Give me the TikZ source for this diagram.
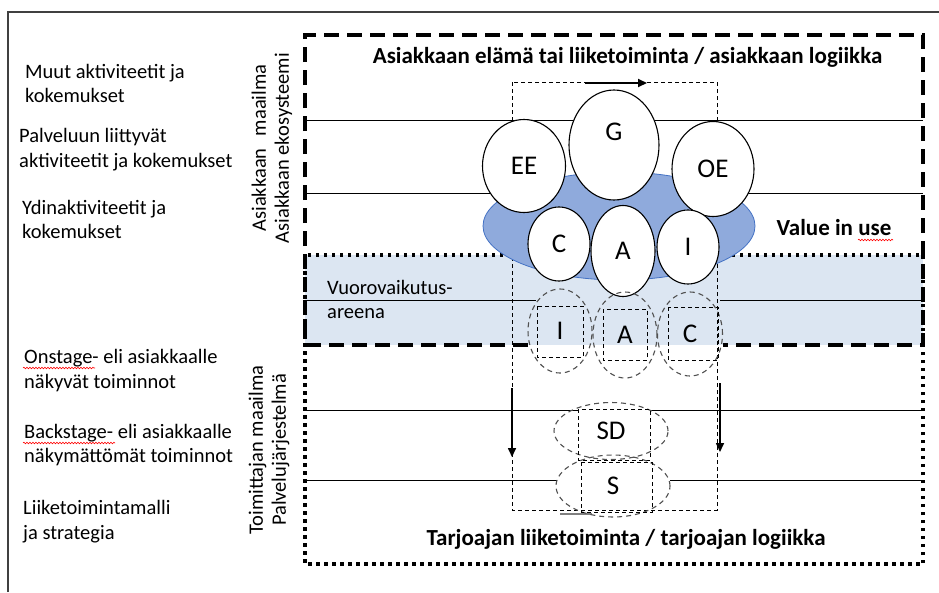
\documentclass[tikz,border=0pt]{standalone}
\usepackage{fontspec}
\setmainfont{Carlito}
\usetikzlibrary{arrows.meta,shapes.geometric,decorations.pathmorphing}

\definecolor{bandblue}{HTML}{DCE6F2}
\definecolor{blobfill}{HTML}{8FAADC}
\definecolor{blobline}{HTML}{4472C4}
\definecolor{framegray}{HTML}{404040}
\definecolor{ghostgray}{HTML}{505050}

\tikzset{
  txt/.style={font=\fontsize{20.5}{24.5}\selectfont, align=left, inner sep=0pt, anchor=west},
  head/.style={font=\bfseries\fontsize{23}{26}\selectfont, inner sep=0pt, anchor=base},
  side/.style={font=\fontsize{20.5}{23}\selectfont, align=center, rotate=90, inner sep=0pt},
  bubble/.style={ellipse, draw, fill=white, line width=1.1pt, inner sep=0pt,
                 font=\fontsize{27}{27}\selectfont},
  bubbletext/.style={inner sep=0pt, font=\fontsize{27}{27}\selectfont},
  ghost/.style={ellipse, draw=ghostgray, dash pattern=on 5pt off 4pt, line width=1.1pt,
                inner sep=0pt, font=\fontsize{27}{27}\selectfont},
  ghostbox/.style={draw=black, dash pattern=on 4pt off 3pt, line width=1pt},
  layer/.style={line width=1pt, black},
  bigdash/.style={line width=3.5pt, dash pattern=on 15pt off 8pt},
  bigdot/.style={line width=3.2pt, dash pattern=on 3.5pt off 4.5pt},
  loopline/.style={line width=1pt, dash pattern=on 4pt off 3pt},
  flow/.style={line width=1.6pt, -{Triangle[length=9pt,width=8pt]}},
  squiggle/.style={red, line width=0.6pt, decorate,
                   decoration={snake, amplitude=0.8pt, segment length=3pt}},
}

\begin{document}
\begin{tikzpicture}[x=1pt,y=-1pt]
\useasboundingbox (0,0) rectangle (939,592);

% page frame
\draw[framegray, line width=1.3pt] (8,592) -- (8,12) -- (939,12);

% interaction arena band
\fill[bandblue] (305,255) rectangle (923,345);

% layer separators
\draw[layer] (307,120) -- (923,120);
\draw[layer] (307,193) -- (923,193);
\draw[layer] (307,300) -- (536,300);
\draw[layer] (720,300) -- (923,300);
\draw[layer] (307,410) -- (578,410);
\draw[layer] (650,410) -- (923,410);
\draw[layer] (307,480) -- (557,480);
\draw[layer] (670,480) -- (923,480);

% value creation loop
\draw[loopline] (512,82) rectangle (717,510);
\coordinate (topA) at (585,83);
\coordinate (topB) at (647,83);
\coordinate (leftA) at (512,388);
\coordinate (leftB) at (512,457);
\coordinate (rightA) at (720,383);
\coordinate (rightB) at (720,452);
\draw[flow, line width=2pt] (topA) -- (topB);
\draw[flow] (leftA) -- (leftB);
\draw[flow] (rightA) -- (rightB);
\coordinate (baseA) at (560,514);
\coordinate (baseB) at (592,514);
\draw[gray, line width=1.5pt] (baseA) -- (baseB);

% provider world (dotted) and customer world (dashed)
\draw[bigdot] (305,255) rectangle (923,564);
\draw[bigdash] (528,345) -- (305,345) -- (305,35) -- (923,35) -- (923,345) -- (723,345);

% value in use
\fill[blobfill, draw=blobline, line width=0.8pt] (619,226) ellipse [x radius=136pt, y radius=54pt];

% customer-side bubbles
\node[bubble, minimum width=83pt, minimum height=93pt] (ee) at (524,166) {EE};
\node[bubble, minimum width=90pt, minimum height=110pt] (g) at (614,145) {};
\node[bubbletext] (glabel) at ([yshift=13pt]g.center) {G};
\node[bubble, minimum width=82pt, minimum height=95pt] (oe) at (713,169) {OE};
\node[bubble, minimum width=62pt, minimum height=74pt] (c1) at (559,244) {C};
\node[bubble, minimum width=64pt, minimum height=91pt] (a1) at (623,251) {A};
\node[bubble, minimum width=62pt, minimum height=74pt] (i1) at (688,247) {I};

% provider-side counterparts
\node[ghost, minimum width=64pt, minimum height=84pt] (i2) at (560,331) {I};
\draw[ghostbox] (537,306) rectangle (583,357);
\node[ghost, minimum width=64pt, minimum height=86pt] (a2) at (625,335) {A};
\draw[ghostbox] (603,309) rectangle (647,360);
\node[ghost, minimum width=65pt, minimum height=84pt] (c2) at (690,334) {C};
\draw[ghostbox] (668,307) rectangle (718,360);
\node[ghost, minimum width=114pt, minimum height=57pt] (sd) at (611,431) {SD};
\draw[ghostbox] (578,409) rectangle (650,460);
\node[ghost, minimum width=114pt, minimum height=62pt] (s) at (613,486) {S};
\draw[ghostbox] (581,462) rectangle (652,512);

% headings
\node[head] (ctitle) at (627.5,63) {Asiakkaan elämä tai liiketoiminta / asiakkaan logiikka};
\node[head] (ptitle) at (626,545) {Tarjoajan liiketoiminta / tarjoajan logiikka};
\node[head] (viu) at (834,235) {Value in use};
\draw[squiggle] (858,240) -- (893,240);

% layer labels
\node[txt] (l1) at (25,83.5) {Muut aktiviteetit ja\\kokemukset};
\node[txt] (l2) at (19,149.5) {Palveluun liittyvät\\aktiviteetit ja kokemukset};
\node[txt] (l3) at (22,219.5) {Ydinaktiviteetit ja\\kokemukset};
\node[txt] (l4) at (24,370.5) {Onstage- eli asiakkaalle\\näkyvät toiminnot};
\node[txt] (l5) at (24,445) {Backstage- eli asiakkaalle\\näkymättömät toiminnot};
\node[txt] (l6) at (23,521.5) {Liiketoimintamalli\\ja strategia};
\draw[squiggle] (23,368) -- (95,368);
\draw[squiggle] (23,443) -- (115,443);
\node[txt] (arena) at (327,299.5) {Vuorovaikutus-\\areena};

% world labels
\node[side] (cworld) at (272,148) {Asiakkaan\hspace{0.6em}maailma\\Asiakkaan ekosysteemi};
\node[side] (pworld) at (269,450) {Toimittajan maailma\\Palvelujärjestelmä};
\end{tikzpicture}
\end{document}
